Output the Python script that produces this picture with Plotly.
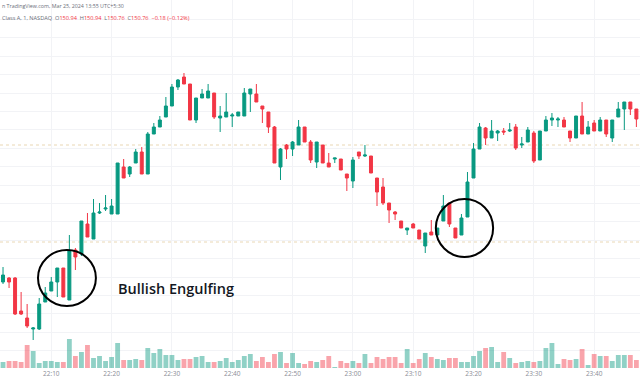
import pandas as pd
import plotly.graph_objects as go

# ---- data (1-minute candles, Mar 25 2024) ----
start_time = "2024-03-25 22:02"
opens = [149.39, 149.43, 149.43, 149.10, 149.03, 148.92, 148.92, 149.19, 149.30, 149.39,
         149.53, 149.21, 149.71, 149.67, 149.97, 149.82, 150.08, 150.12, 150.07, 150.07,
         150.54, 150.47, 150.58, 150.69, 150.47, 150.87, 150.94, 151.04, 151.15, 151.34,
         151.44, 151.37, 151.01, 151.23, 151.23, 151.28, 151.03, 151.04, 151.05, 151.05,
         151.05, 151.27, 151.27, 151.15, 151.09, 150.94, 150.54, 150.76, 150.72, 150.76,
         150.94, 150.79, 150.59, 150.76, 150.58, 150.62, 150.62, 150.47, 150.40, 150.69,
         150.65, 150.65, 150.43, 150.34, 150.18, 150.09, 150.00, 149.91, 149.97, 149.91,
         149.75, 149.89, 149.86, 150.00, 150.18, 149.93, 149.86, 150.04, 150.43, 150.72,
         150.93, 150.83, 150.88, 150.90, 150.90, 150.94, 150.76, 150.79, 150.88, 150.61,
         150.90, 151.01, 151.01, 151.01, 150.90, 150.83, 151.05, 150.87, 150.98, 150.90,
         151.01, 150.83, 151.04, 151.12, 151.19, 151.12]
highs = [149.54, 149.44, 149.44, 149.29, 149.17, 148.94, 149.23, 149.34, 149.44, 149.53,
         149.53, 149.86, 149.73, 150.00, 150.08, 150.22, 150.18, 150.26, 150.22, 150.58,
         150.62, 150.55, 150.72, 150.74, 150.89, 150.98, 151.05, 151.24, 151.37, 151.42,
         151.48, 151.37, 151.23, 151.32, 151.37, 151.28, 151.15, 151.28, 151.08, 151.09,
         151.33, 151.32, 151.37, 151.15, 151.09, 150.95, 150.73, 150.77, 150.80, 151.01,
         150.94, 150.81, 150.79, 150.76, 150.68, 150.63, 150.62, 150.47, 150.64, 150.69,
         150.76, 150.65, 150.43, 150.43, 150.18, 150.10, 150.00, 149.93, 149.98, 149.91,
         149.88, 150.01, 149.93, 150.26, 150.18, 149.93, 150.07, 150.49, 150.78, 150.98,
         150.94, 151.01, 150.91, 150.93, 150.98, 150.97, 150.84, 150.94, 150.90, 150.90,
         151.05, 151.08, 151.04, 151.04, 150.90, 151.05, 151.19, 151.00, 151.01, 151.04,
         151.01, 151.01, 151.19, 151.19, 151.19, 151.12]
lows = [149.37, 149.33, 149.06, 149.06, 148.93, 148.81, 148.91, 149.19, 149.30, 149.24,
        149.24, 149.21, 149.51, 149.65, 149.84, 149.82, 150.07, 150.10, 150.07, 150.07,
        150.43, 150.44, 150.58, 150.47, 150.47, 150.87, 150.94, 151.04, 151.15, 151.31,
        151.37, 151.01, 150.98, 151.23, 151.23, 151.02, 150.89, 151.04, 150.94, 151.05,
        151.05, 151.09, 151.19, 150.98, 150.88, 150.58, 150.41, 150.62, 150.65, 150.76,
        150.79, 150.58, 150.53, 150.58, 150.54, 150.58, 150.51, 150.30, 150.33, 150.62,
        150.64, 150.48, 150.15, 150.16, 149.98, 150.01, 149.93, 149.86, 149.93, 149.82,
        149.68, 149.86, 149.86, 150.00, 149.94, 149.83, 149.86, 150.04, 150.43, 150.72,
        150.76, 150.83, 150.80, 150.86, 150.89, 150.71, 150.73, 150.79, 150.58, 150.61,
        150.90, 150.95, 150.94, 150.94, 150.79, 150.83, 150.87, 150.87, 150.90, 150.90,
        150.84, 150.79, 151.04, 150.91, 151.06, 150.94]
closes = [149.46, 149.39, 149.07, 149.07, 148.95, 148.93, 149.17, 149.28, 149.39, 149.53,
          149.24, 149.70, 149.64, 150.00, 149.84, 150.08, 150.09, 150.13, 150.15, 150.58,
          150.43, 150.54, 150.69, 150.47, 150.87, 150.94, 151.01, 151.15, 151.34, 151.41,
          151.37, 151.01, 151.23, 151.27, 151.30, 151.04, 151.05, 151.09, 151.06, 151.09,
          151.28, 151.32, 151.19, 151.12, 150.94, 150.58, 150.72, 150.72, 150.79, 150.94,
          150.79, 150.61, 150.79, 150.58, 150.54, 150.63, 150.51, 150.43, 150.61, 150.65,
          150.66, 150.48, 150.29, 150.18, 150.11, 150.07, 149.93, 149.93, 149.93, 149.82,
          149.88, 149.86, 149.93, 150.15, 149.97, 149.83, 150.03, 150.39, 150.72, 150.94,
          150.83, 150.90, 150.90, 150.89, 150.91, 150.73, 150.77, 150.91, 150.60, 150.90,
          151.01, 151.03, 151.02, 150.94, 150.83, 151.05, 150.87, 150.94, 150.90, 151.01,
          150.87, 151.01, 151.12, 151.19, 151.12, 151.02]
volumes_k = [6, 7, 7, 6, 23, 17, 5, 7, 7, 6,
             6, 29, 12, 16, 23, 10, 12, 7, 11, 25,
             8, 8, 9, 8, 20, 15, 19, 13, 13, 8,
             9, 9, 11, 12, 6, 6, 7, 10, 6, 8,
             12, 14, 7, 11, 6, 14, 16, 5, 15, 5,
             4, 7, 6, 8, 12, 1, 7, 5, 7, 5,
             14, 5, 11, 9, 11, 11, 5, 19, 5, 9,
             15, 11, 9, 8, 10, 10, 6, 6, 12, 17,
             20, 21, 6, 16, 10, 5, 6, 7, 6, 7,
             20, 25, 4, 9, 8, 9, 19, 3, 14, 12,
             12, 7, 13, 13, 13, 8]
last_price = 150.76
prev_close = 149.79
pattern_label = "Bullish Engulfing"
header_line1 = "n TradingView.com, Mar 25, 2024 13:55 UTC+5:30"

times = pd.date_range(start_time, periods=len(opens), freq="1min")

GREEN = "#089981"
RED = "#f23645"
vol_colors = ["rgba(8,153,129,0.45)" if c >= o else "rgba(242,54,69,0.45)"
              for o, c in zip(opens, closes)]

fig = go.Figure()
fig.add_trace(go.Bar(x=times, y=volumes_k, marker=dict(color=vol_colors, line=dict(width=0)),
                     yaxis="y2", hoverinfo="skip"))
fig.add_trace(go.Candlestick(
    x=times, open=opens, high=highs, low=lows, close=closes,
    increasing=dict(line=dict(color=GREEN, width=1), fillcolor=GREEN),
    decreasing=dict(line=dict(color=RED, width=1), fillcolor=RED),
    whiskerwidth=0, yaxis="y"))

t0 = pd.Timestamp(start_time)
def tm(i):
    return t0 + pd.Timedelta(minutes=i)

shapes = []
for p in (last_price, prev_close):
    shapes.append(dict(type="line", xref="paper", x0=0, x1=1, yref="y", y0=p, y1=p,
                       line=dict(color="#e9d7b4", width=1, dash="dot"), layer="below"))
# circles around the two engulfing patterns
for ci, cp, rx, ry in ((10.6, 149.43, 4.8, 0.28), (76.5, 149.93, 4.75, 0.29)):
    shapes.append(dict(type="circle", xref="x", yref="y",
                       x0=tm(ci - rx), x1=tm(ci + rx), y0=cp - ry, y1=cp + ry,
                       line=dict(color="black", width=2)))

ann = [
    dict(text=pattern_label, x=116 / 640, y=(368 - 288) / 368, xref="paper", yref="paper",
         xanchor="left", yanchor="middle", showarrow=False,
         font=dict(family="Open Sans", size=14.5, color="#131722", weight=600)),
    dict(text=header_line1, x=0, y=(368 - 6) / 368, xref="paper", yref="paper",
         xanchor="left", yanchor="middle", showarrow=False,
         font=dict(family="Open Sans", size=5.3, color="#6a6d78")),
    dict(text=("Class A, 1, NASDAQ  O<span style='color:#f23645'>150.94</span>  "
               "H<span style='color:#f23645'>150.94</span>  L<span style='color:#f23645'>150.76</span>  "
               "C<span style='color:#f23645'>150.76</span>  "
               "<span style='color:#f23645'>\u22120.18 (\u22120.12%)</span>"),
         x=0, y=(368 - 18) / 368, xref="paper", yref="paper",
         xanchor="left", yanchor="middle", showarrow=False,
         font=dict(family="Open Sans", size=5.6, color="#6a6d78")),
]

fig.update_layout(
    width=640, height=384,
    margin=dict(l=0, r=0, t=0, b=16),
    paper_bgcolor="white", plot_bgcolor="white",
    showlegend=False, bargap=0.2, boxgap=0.3,
    shapes=shapes, annotations=ann,
    xaxis=dict(type="date", range=[tm(-0.5), tm(105.6)], rangeslider=dict(visible=False),
               tick0="2024-03-25 22:10", dtick=600000, tickformat="%H:%M",
               showgrid=True, gridcolor="#f2f3f6", gridwidth=1, zeroline=False,
               showline=False, ticks="", tickfont=dict(family="Open Sans", size=6.5, color="#8a8d96")),
    yaxis=dict(range=[148.53, 152.21], showticklabels=False, showgrid=True,
               gridcolor="#f2f3f6", tick0=151.28, dtick=0.184, zeroline=False),
    yaxis2=dict(range=[0, 368], overlaying="y", showticklabels=False, showgrid=False,
                zeroline=False),
)

fig.write_html("out.html", config={"displayModeBar": False},
               post_script="document.body.style.margin='0';document.body.style.overflow='hidden';")
